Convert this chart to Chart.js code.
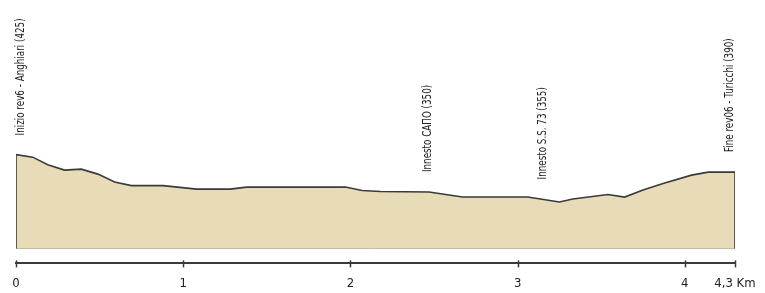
<!DOCTYPE html>
<html>
<head>
<meta charset="utf-8">
<script src="https://cdn.jsdelivr.net/npm/chart.js@4/dist/chart.umd.min.js"></script>
<style>
  html, body { margin: 0; padding: 0; background: #fff; overflow: hidden; }
  #wrap { width: 765px; height: 304px; position: relative; }
</style>
</head>
<body>
<div id="wrap"><canvas id="profile"></canvas></div>
<script>
/* Altimetric profile, rev6 Anghiari -> Turicchi.
   Distances in km, altitudes in m. */

const distKm = [0, 0.10, 0.19, 0.29, 0.39, 0.49, 0.59, 0.69, 0.88, 1.08, 1.28, 1.38, 1.97, 2.07,
                2.18, 2.47, 2.67, 3.06, 3.25, 3.33, 3.54, 3.64, 3.75, 3.87, 4.04, 4.14, 4.3];
const altM   = [425, 420, 405, 394, 396, 386, 370, 363, 363, 356, 356, 360, 360, 353,
                351, 350, 340, 340, 330, 336, 345, 340, 354, 367, 384, 390, 390];
const baseAlt = 237;

const tickKm     = [0, 1, 2, 3, 4, 4.3];
const tickLabels = ['0', '1', '2', '3', '4', '4,3 Km'];

const placeNames = ['Inizio rev6 - Anghiari (425)', 'Innesto CAПO (350)', 'Innesto S.S. 73 (355)', 'Fine rev06 - Turicchi (390)'];
const placeKm    = [0.03, 2.46, 3.15, 4.27];

const INK = '#3a3a3a';
const FILL = '#e8dbb7';
const FONT = "'Liberation Sans Narrow', 'DejaVu Sans Condensed', 'Roboto Condensed', sans-serif";
const SQUEEZE = 0.78;   // the original lettering is a condensed face

// profile closed with vertical edges at both ends
const profilePts = [{ x: distKm[0], y: baseAlt }]
  .concat(distKm.map((d, i) => ({ x: d, y: altM[i] })))
  .concat([{ x: distKm[distKm.length - 1], y: baseAlt }]);

function altAt(km) {
  for (let i = 1; i < distKm.length; i++) {
    if (km <= distKm[i]) {
      const t = (km - distKm[i - 1]) / (distKm[i] - distKm[i - 1]);
      return altM[i - 1] + t * (altM[i] - altM[i - 1]);
    }
  }
  return altM[altM.length - 1];
}

const placeLabels = {
  id: 'placeLabels',
  afterDatasetsDraw(chart) {
    const { ctx, scales: { x, y } } = chart;
    ctx.save();
    ctx.fillStyle = '#222';
    ctx.font = '12.5px ' + FONT;
    ctx.textAlign = 'left';
    ctx.textBaseline = 'middle';
    placeNames.forEach((name, i) => {
      const px = x.getPixelForValue(placeKm[i]);
      const py = y.getPixelForValue(altAt(placeKm[i])) - 20;
      ctx.save();
      ctx.translate(px, py);
      ctx.rotate(-Math.PI / 2);
      ctx.scale(SQUEEZE, 1);
      ctx.fillText(name, 0, 0);
      ctx.restore();
    });
    ctx.restore();
  }
};

// tick marks crossing the km axis line
const crossTicks = {
  id: 'crossTicks',
  afterDraw(chart) {
    const { ctx, scales: { x } } = chart;
    ctx.save();
    ctx.strokeStyle = INK;
    ctx.lineWidth = 1.5;
    tickKm.forEach(k => {
      const px = Math.round(x.getPixelForValue(k)) + 0.5;
      ctx.beginPath();
      ctx.moveTo(px, x.top - 3);
      ctx.lineTo(px, x.top + 4);
      ctx.stroke();
    });
    ctx.restore();
  }
};

new Chart(document.getElementById('profile'), {
  type: 'line',
  data: {
    datasets: [
      {
        data: profilePts,
        borderColor: INK, borderWidth: 1.6,
        backgroundColor: FILL,
        fill: { value: baseAlt },
        pointRadius: 0, tension: 0,
      },
      {
        data: [{ x: 0, y: baseAlt }, { x: 4.3, y: baseAlt }],
        borderColor: '#9a9186', borderWidth: 1,
        pointRadius: 0, fill: false,
      },
    ],
  },
  options: {
    responsive: true, maintainAspectRatio: false, animation: false,
    layout: { padding: { left: 16, right: 30, top: 15, bottom: 0 } },
    plugins: { legend: { display: false }, tooltip: { enabled: false } },
    scales: {
      x: {
        type: 'linear', min: 0, max: 4.3,
        afterBuildTicks: s => { s.ticks = tickKm.map(v => ({ value: v })); },
        afterFit: s => { s.paddingLeft = 0; s.paddingRight = 0; },
        grid: { drawOnChartArea: false, drawTicks: false },
        border: { color: INK, width: 2 },
        ticks: {
          padding: 12.5, color: '#222', autoSkip: false, maxRotation: 0,
          font: { family: FONT, size: 13 },
          callback: (v, i) => tickLabels[i],
        },
      },
      y: { display: false, min: 207, max: 705 },
    },
  },
  plugins: [placeLabels, crossTicks],
});
</script>
</body>
</html>
